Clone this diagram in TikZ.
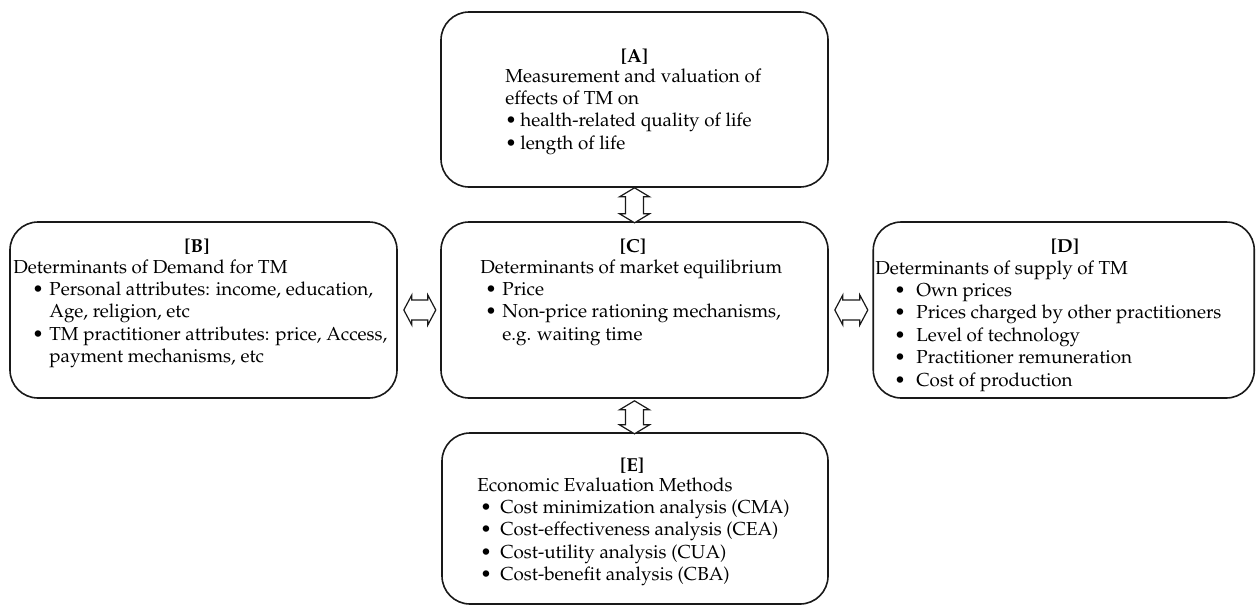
\documentclass[tikz,border=0pt]{standalone}
\usepackage[T1]{fontenc}
\usepackage{mathpazo}
\usetikzlibrary{calc}
\newcommand{\bul}[2]{\hspace*{#1}\makebox[#2][l]{\textbullet}}
\begin{document}
\begin{tikzpicture}[x=0.5pt,y=-0.5pt,
  box/.style={draw=black!90,line width=0.8pt,rounded corners=14pt,inner sep=0pt},
  ttl/.style={anchor=base,inner sep=0pt,font=\fontsize{9.4}{11.2}\selectfont\bfseries},
  body/.style={anchor=base west,inner sep=0pt,font=\fontsize{9.4}{11.2}\selectfont},
  dbl/.style={draw=black!90,line width=0.6pt,fill=white,line join=miter}]
\useasboundingbox (0,0) rectangle (1256,605);
% boxes
\node[box,minimum width=193.5pt,minimum height=87.5pt] (A) at (634.5,99.5) {};
\node[box,minimum width=193.5pt,minimum height=88pt] (B) at (203.5,310) {};
\node[box,minimum width=193.5pt,minimum height=88pt] (C) at (634.5,310) {};
\node[box,minimum width=190.5pt,minimum height=88pt] (D) at (1063.75,310) {};
\node[box,minimum width=193pt,minimum height=85.5pt] (E) at (635,518.5) {};
% titles
\node[ttl] (At) at (634.5,62) {[A]};
\node[ttl] (Bt) at (197,252) {[B]};
\node[ttl] (Ct) at (633,252) {[C]};
\node[ttl] (Dt) at (1065,252) {[D]};
\node[ttl] (Et) at (632,471) {[E]};
% bodies
\node[body] (Ab) at (505,82) {\begin{tabular}[t]{@{}l@{}}
Measurement and valuation of\\
effects of TM on\\
\makebox[7.5pt][l]{\textbullet}health-related quality of life\\
\makebox[7.5pt][l]{\textbullet}length of life
\end{tabular}};
\node[body] (Bb) at (13,273) {\begin{tabular}[t]{@{}l@{}}
Determinants of Demand for TM\\
\bul{9.5pt}{8.5pt}Personal attributes: income, education,\\
\hspace*{18pt}Age, religion, etc\\
\bul{9.5pt}{8.5pt}TM practitioner attributes: price, Access,\\
\hspace*{18pt}payment mechanisms, etc
\end{tabular}};
\node[body] (Cb) at (480,273) {\begin{tabular}[t]{@{}l@{}}
Determinants of market equilibrium\\
\bul{2.5pt}{8.5pt}Price\\
\bul{2.5pt}{8.5pt}Non-price rationing mechanisms,\\
\hspace*{11pt}e.g. waiting time
\end{tabular}};
\node[body] (Db) at (875,274) {\begin{tabular}[t]{@{}l@{}}
Determinants of supply of TM\\
\bul{9.5pt}{11pt}Own prices\\
\bul{9.5pt}{11pt}Prices charged by other practitioners\\
\bul{9.5pt}{11pt}Level of technology\\
\bul{9.5pt}{11pt}Practitioner remuneration\\
\bul{9.5pt}{11pt}Cost of production
\end{tabular}};
\node[body] (Eb) at (477,491) {\begin{tabular}[t]{@{}l@{}}
Economic Evaluation Methods\\
\bul{1.5pt}{10pt}Cost minimization analysis (CMA)\\
\bul{1.5pt}{10pt}Cost-effectiveness analysis (CEA)\\
\bul{1.5pt}{10pt}Cost-utility analysis (CUA)\\
\bul{1.5pt}{10pt}Cost-benefit analysis (CBA)
\end{tabular}};
% hollow double arrows
\draw[dbl] ($(B.east)+(6,0)$) -- ++(8,-15) -- ++(0,5) -- ++(16,0) -- ++(0,-5)
  -- ++(8,15) -- ++(-8,15) -- ++(0,-5) -- ++(-16,0) -- ++(0,5) -- cycle;
\draw[dbl] ($(C.east)+(6,0)$) -- ++(8,-15) -- ++(0,5) -- ++(17,0) -- ++(0,-5)
  -- ++(8,15) -- ++(-8,15) -- ++(0,-5) -- ++(-17,0) -- ++(0,5) -- cycle;
\draw[dbl] (A.south) -- ++(15,9) -- ++(-6,0) -- ++(0,17) -- ++(6,0)
  -- ++(-15,9) -- ++(-15,-9) -- ++(6,0) -- ++(0,-17) -- ++(-6,0) -- cycle;
\draw[dbl] ($(C.south)+(0,2)$) -- ++(15,9) -- ++(-6,0) -- ++(0,15) -- ++(6,0)
  -- ++(-15,9) -- ++(-15,-9) -- ++(6,0) -- ++(0,-15) -- ++(-6,0) -- cycle;
\end{tikzpicture}
\end{document}
